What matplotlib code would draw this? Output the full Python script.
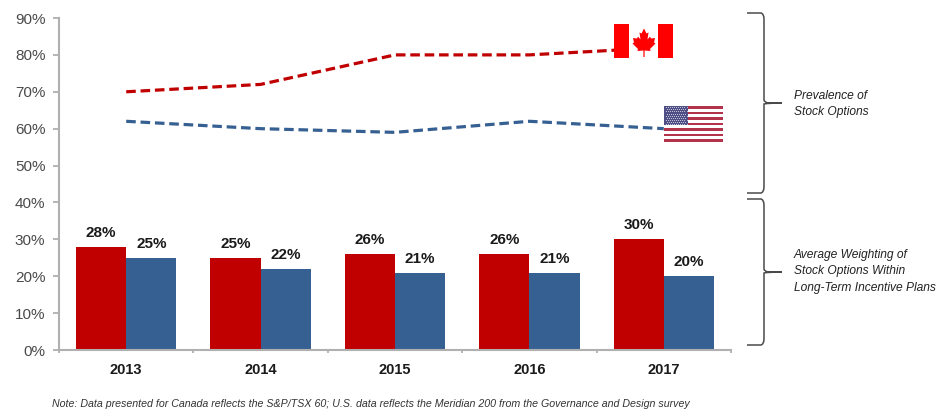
import matplotlib
matplotlib.use('Agg')
import matplotlib.pyplot as plt
from matplotlib.patches import PathPatch, Polygon, Rectangle
from matplotlib.path import Path
from matplotlib.ticker import FixedLocator
import numpy as np

plt.rcParams['font.family'] = ['Liberation Sans', 'DejaVu Sans']

years = ['2013', '2014', '2015', '2016', '2017']
canada_prevalence = [70, 72, 80, 80, 82]
us_prevalence = [62, 60, 59, 62, 60]
canada_weighting = [28, 25, 26, 26, 30]
us_weighting = [25, 22, 21, 21, 20]
y_ticks = [0, 10, 20, 30, 40, 50, 60, 70, 80, 90]

note = ('Note: Data presented for Canada reflects the S&P/TSX 60; '
        'U.S. data reflects the Meridian 200 from the Governance and Design survey')
brace_labels = ['Prevalence of\nStock Options',
                'Average Weighting of\nStock Options Within\nLong-Term Incentive Plans']

RED = '#C00000'
BLUE = '#366092'
GREY = '#B0B0B0'
TEXT = '#4A4A4A'
W, H = 939, 411

fig = plt.figure(figsize=(W / 100, H / 100), dpi=100)

# axes box in pixels: left 59, right 731, 90% at 18, 0% at 350
ax = fig.add_axes([59 / W, 1 - 350 / H, 672 / W, 332 / H])
x = np.arange(len(years))
bar_w = 0.373

ax.bar(x - bar_w / 2, canada_weighting, bar_w, color=RED, linewidth=0)
ax.bar(x + bar_w / 2, us_weighting, bar_w, color=BLUE, linewidth=0)
ax.plot(x, canada_prevalence, color=RED, lw=2.3, dashes=(3.0, 1.5))
ax.plot(x, us_prevalence, color=BLUE, lw=2.3, dashes=(3.0, 1.5))

for i in range(len(years)):
    ax.annotate(f'{canada_weighting[i]}%', (x[i] - bar_w / 2, canada_weighting[i]), xytext=(0, 5),
                textcoords='offset points', ha='center', va='bottom', fontsize=11,
                fontweight='bold', color='#1A1A1A')
    ax.annotate(f'{us_weighting[i]}%', (x[i] + bar_w / 2, us_weighting[i]), xytext=(0, 5),
                textcoords='offset points', ha='center', va='bottom', fontsize=11,
                fontweight='bold', color='#1A1A1A')

ax.set_xlim(-0.5, len(years) - 0.5)
ax.set_ylim(0, 90)
ax.set_yticks(y_ticks)
ax.set_yticklabels([f'{v}%' for v in y_ticks], fontsize=11, color=TEXT)
ax.set_xticks(x)
ax.set_xticklabels(years, fontsize=10.5, fontweight='bold', color='#1A1A1A')
ax.xaxis.set_minor_locator(FixedLocator(np.arange(-0.5, len(years))))
ax.tick_params(axis='x', which='major', length=0, pad=9.5)
ax.tick_params(axis='x', which='minor', length=2.5, color=GREY, width=1.3)
ax.tick_params(axis='y', length=4.3, color=GREY, width=1.3, pad=5.5)
for s in ['top', 'right']:
    ax.spines[s].set_visible(False)
for s in ['left', 'bottom']:
    ax.spines[s].set_color(GREY)
    ax.spines[s].set_linewidth(1.5)

# overlay in pixel coordinates for flags, braces and notes
ov = fig.add_axes([0, 0, 1, 1], zorder=5)
ov.set_xlim(0, W)
ov.set_ylim(H, 0)
ov.axis('off')


def brace(top, mid, bottom):
    x0, xs, xt = 747, 764, 782
    verts = [(x0, top), (xs - 3, top), (xs, top + 1), (xs, top + 6),
             (xs, mid - 3), (xs, mid - 1), (xs + 4, mid), (xt, mid),
             (xs + 4, mid), (xs, mid + 1), (xs, mid + 3),
             (xs, bottom - 6), (xs, bottom - 1), (xs - 3, bottom), (x0, bottom)]
    codes = [Path.MOVETO, Path.LINETO, Path.CURVE3, Path.CURVE3,
             Path.LINETO, Path.CURVE3, Path.CURVE3, Path.LINETO,
             Path.CURVE3, Path.CURVE3, Path.LINETO,
             Path.LINETO, Path.CURVE3, Path.CURVE3, Path.LINETO]
    ov.add_patch(PathPatch(Path(verts, codes), fc='none', ec='#4A4A4A', lw=1.1))


brace(13, 103, 193)
brace(199, 272, 345)
ov.text(794, 104, brace_labels[0], fontsize=8.65, style='italic', color='#222222',
        va='center', ha='left', linespacing=1.5)
ov.text(794, 271, brace_labels[1], fontsize=8.65, style='italic', color='#222222',
        va='center', ha='left', linespacing=1.5)
ov.text(52, 404, note, fontsize=7.63, style='italic', color='#333333', va='center', ha='left')

# Canadian flag
ov.add_patch(Rectangle((614, 24.5), 59, 34, fc='white', ec='none'))
ov.add_patch(Rectangle((614, 24.5), 15, 34, fc='#FF0000', ec='none'))
ov.add_patch(Rectangle((658, 24.5), 15, 34, fc='#FF0000', ec='none'))
leaf = [(0, -14), (2.5, -9), (4.5, -10), (3.5, -3), (6, -6), (7, -4), (11, -4.5), (10, 0),
        (11.5, 1), (6, 6.5), (6.5, 8.5), (0.6, 8), (0.6, 14.5), (-0.6, 14.5), (-0.6, 8), (-6.5, 8.5),
        (-6, 6.5), (-11.5, 1), (-10, 0), (-11, -4.5), (-7, -4), (-6, -6), (-3.5, -3),
        (-4.5, -10), (-2.5, -9)]
ov.add_patch(Polygon([(644 + a, 42.5 + b) for a, b in leaf], fc='#FF0000', ec='none'))

# US flag
fx, fy, fw, fh = 664, 106, 59, 36
ov.add_patch(Rectangle((fx, fy), fw, fh, fc='white', ec='none'))
for i in range(0, 13, 2):
    ov.add_patch(Rectangle((fx, fy + i * fh / 13), fw, fh / 13, fc='#B2334A', ec='none'))
ov.add_patch(Rectangle((fx, fy), 24, fh * 7 / 13, fc='#4F4F85', ec='none'))
for r in range(9):
    for c in range(11 if r % 2 == 0 else 10):
        ov.plot(fx + 1.5 + c * 2.1 + (0 if r % 2 == 0 else 1.05), fy + 1.3 + r * 2.1, 's',
                ms=0.7, mfc='#C8C8DC', mec='none')

fig.savefig('out.png', dpi=100)
